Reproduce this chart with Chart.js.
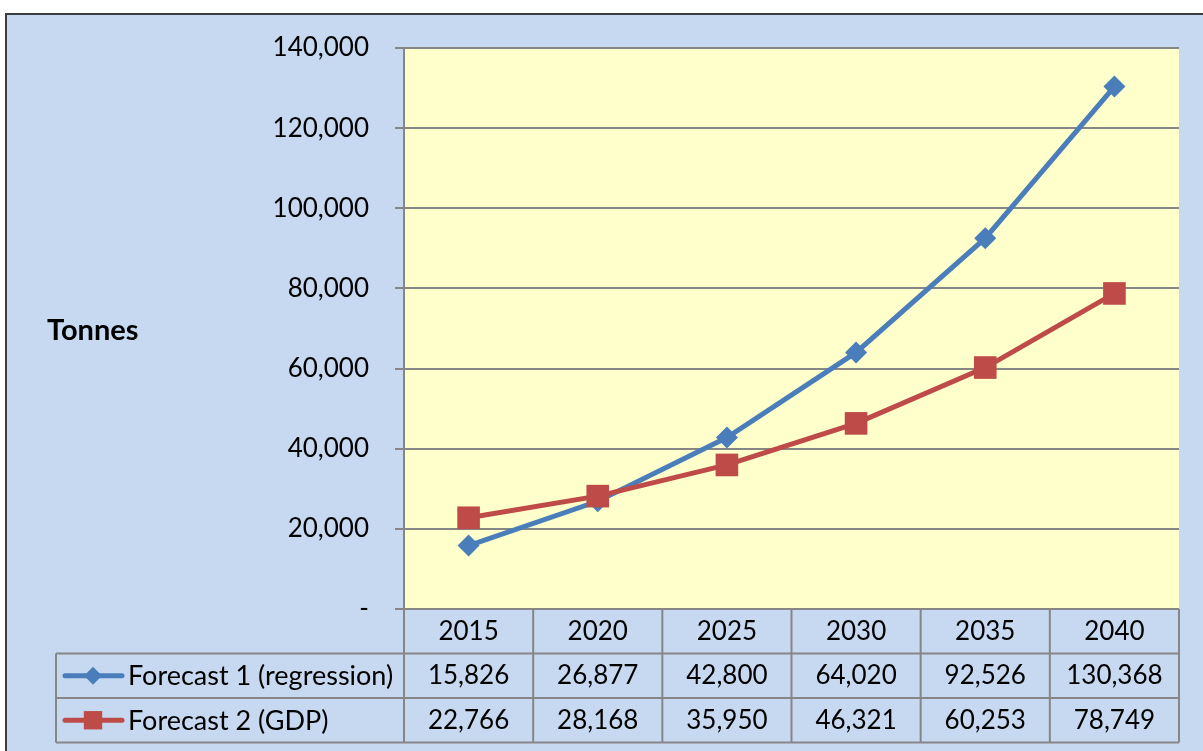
<!DOCTYPE html>
<html>
<head>
<meta charset="utf-8">
<script src="https://cdn.jsdelivr.net/npm/chart.js@4/dist/chart.umd.min.js"></script>
<style>
html,body{margin:0;padding:0;background:#fff;}
#wrap{width:1203px;height:751px;position:relative;}
</style>
</head>
<body>
<div id="wrap"><canvas id="c" width="1203" height="751"></canvas></div>
<script>
var years = ['2015','2020','2025','2030','2035','2040']
var forecast1 = [15826, 26877, 42800, 64020, 92526, 130368]
var forecast2 = [22766, 28168, 35950, 46321, 60253, 78749]
var seriesNames = ['Forecast 1 (regression)', 'Forecast 2 (GDP)']
var yTicks = [0, 20000, 40000, 60000, 80000, 100000, 120000, 140000]

var FONT = 'Lato, "Open Sans", sans-serif'
var BLUE = '#4A7EBB', RED = '#BE4B48', GRID = '#868686'

function fmt(v) {
    return v === 0 ? '-' : v.toLocaleString('en-US')
}

// frame, plot background, "Tonnes" label, data table under the plot
var decor = {
    id: 'decor',
    beforeDraw: function (chart) {
        var ctx = chart.ctx, a = chart.chartArea
        ctx.save()
        ctx.fillStyle = '#fff'
        ctx.fillRect(0, 0, chart.width, chart.height)
        ctx.fillStyle = '#C6D9F1'
        ctx.fillRect(5, 14, chart.width, chart.height)
        ctx.strokeStyle = '#3c3c3c'
        ctx.lineWidth = 2
        ctx.beginPath()
        ctx.moveTo(6, chart.height); ctx.lineTo(6, 14); ctx.lineTo(chart.width, 14)
        ctx.stroke()
        ctx.fillStyle = '#FFFFCC'
        ctx.fillRect(a.left, a.top, a.right - a.left, a.bottom - a.top)
        ctx.fillStyle = '#000'
        ctx.font = 'bold 29px ' + FONT
        ctx.textBaseline = 'middle'
        ctx.fillText('Tonnes', 47, 331)
        ctx.restore()
    },
    afterDraw: function (chart) {
        var ctx = chart.ctx, a = chart.chartArea, x = chart.scales.x
        var colW = (a.right - a.left) / years.length
        var rowH = 44.5
        var top = a.bottom, legL = 56
        ctx.save()
        ctx.strokeStyle = GRID
        ctx.lineWidth = 2
        ctx.beginPath()
        // horizontal lines
        ctx.moveTo(a.left, top); ctx.lineTo(a.right, top)
        for (var r = 1; r <= 3; r++) {
            ctx.moveTo(legL, top + rowH * r); ctx.lineTo(a.right, top + rowH * r)
        }
        // vertical lines
        ctx.moveTo(legL, top + rowH); ctx.lineTo(legL, top + rowH * 3)
        for (var i = 0; i <= years.length; i++) {
            var xx = a.left + colW * i
            ctx.moveTo(xx, top); ctx.lineTo(xx, top + rowH * 3)
        }
        ctx.stroke()

        ctx.fillStyle = '#000'
        ctx.font = '26px ' + FONT
        ctx.textBaseline = 'middle'
        ctx.textAlign = 'center'
        var rows = [forecast1, forecast2]
        years.forEach(function (y, i) {
            var cx = x.getPixelForValue(i)
            ctx.fillText(y, cx, top + rowH * 0.5)
            rows.forEach(function (vals, k) {
                ctx.fillText(fmt(vals[i]), cx, top + rowH * (k + 1.5))
            })
        })
        // legend keys
        ctx.textAlign = 'left'
        ctx.font = '27px ' + FONT
        var colors = [BLUE, RED]
        var shapes = ['rectRot', 'rect']
        var rads = [9, 13]
        seriesNames.forEach(function (n, k) {
            var cy = top + rowH * (k + 1.5)
            ctx.strokeStyle = colors[k]
            ctx.lineWidth = 5
            ctx.lineCap = 'round'
            ctx.beginPath()
            ctx.moveTo(65, cy); ctx.lineTo(122, cy)
            ctx.stroke()
            ctx.fillStyle = colors[k]
            Chart.helpers.drawPoint(ctx, { pointStyle: shapes[k], radius: rads[k], borderWidth: 0 }, 93, cy)
            ctx.fillStyle = '#000'
            ctx.fillText(n, 128, cy + 1)
        })
        ctx.restore()
    }
}

new Chart(document.getElementById('c'), {
    type: 'line',
    data: {
        labels: years,
        datasets: [{
            label: seriesNames[0],
            data: forecast1,
            borderColor: BLUE,
            backgroundColor: BLUE,
            borderWidth: 5,
            pointStyle: 'rectRot',
            pointRadius: 11,
            pointBorderWidth: 0,
            order: 1
        }, {
            label: seriesNames[1],
            data: forecast2,
            borderColor: RED,
            backgroundColor: RED,
            borderWidth: 5,
            pointStyle: 'rect',
            pointRadius: 16,
            pointBorderWidth: 0,
            order: 0
        }]
    },
    options: {
        responsive: false,
        animation: false,
        layout: { padding: { top: 48, bottom: 142, right: 24, left: 0 } },
        plugins: { legend: { display: false }, tooltip: { enabled: false } },
        scales: {
            x: { display: false, offset: true },
            y: {
                min: 0, max: 140000,
                afterFit: function (s) { s.width = 404 },
                afterBuildTicks: function (s) { s.ticks = yTicks.map(function (v) { return { value: v } }) },
                ticks: {
                    padding: 26,
                    color: '#000',
                    font: { family: FONT, size: 26 },
                    callback: function (v) { return fmt(v) }
                },
                grid: { color: GRID, lineWidth: 2, tickLength: 9 },
                border: { color: GRID, width: 2 }
            }
        }
    },
    plugins: [decor]
})
</script>
</body>
</html>
